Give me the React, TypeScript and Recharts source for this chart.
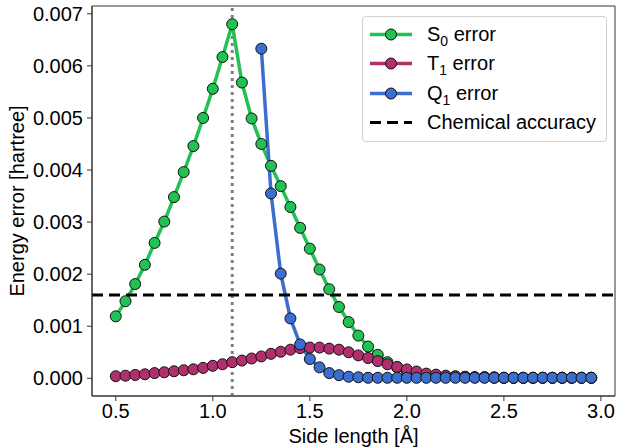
import React from 'react';
import {
  LineChart,
  Line,
  XAxis,
  YAxis,
  ReferenceLine,
  ReferenceArea,
} from 'recharts';

const sideLengths = [
  0.5, 0.55, 0.6, 0.65, 0.7, 0.75, 0.8, 0.85, 0.9, 0.95,
  1.0, 1.05, 1.1, 1.15, 1.2, 1.25, 1.3, 1.35, 1.4, 1.45,
  1.5, 1.55, 1.6, 1.65, 1.7, 1.75, 1.8, 1.85, 1.9, 1.95,
  2.0, 2.05, 2.1, 2.15, 2.2, 2.25, 2.3, 2.35, 2.4, 2.45,
  2.5, 2.55, 2.6, 2.65, 2.7, 2.75, 2.8, 2.85, 2.9, 2.95,
];

const s0Error = [
  0.00119, 0.00148, 0.00181, 0.00218, 0.0026, 0.00301, 0.00348, 0.00396, 0.00446, 0.005,
  0.00556, 0.00617, 0.0068, 0.00568, 0.00499, 0.0045, 0.00408, 0.00369, 0.00329, 0.00289,
  0.00249, 0.00209, 0.00171, 0.00137, 0.00108, 0.00082, 0.00061, 0.00045, 0.00031, 0.00021,
  0.00014, 0.0001, 0.00007, 0.00005, 0.00004, 0.00003, 0.00002, 0.00002, 0.00002, 0.00001,
  0.00001, 0.00001, 0.00001, 0.00001, 0.00001, 0.00001, 0.00001, 0.00001, 0.00001, 0.00001,
];

const t1Error = [
  0.00004, 0.00005, 0.000064, 0.000077, 0.0001, 0.000116, 0.000135, 0.000154, 0.000173, 0.0002,
  0.00024, 0.00027, 0.00031, 0.00034, 0.00038, 0.00042, 0.00047, 0.00051, 0.00055, 0.00058,
  0.00059, 0.00059, 0.00057, 0.00055, 0.0005, 0.00044, 0.00039, 0.00033, 0.00027, 0.00022,
  0.00017, 0.00013, 0.00009, 0.00007, 0.00005, 0.00004, 0.00003, 0.00002, 0.00002, 0.00002,
  0.00001, 0.00001, 0.00001, 0.00001, 0.00001, 0.00001, 0.00001, 0.00001, 0.00001, 0.00001,
];

// Q1 only computed from 1.25 A onwards
const q1Error = [
  null, null, null, null, null, null, null, null, null, null,
  null, null, null, null, null, 0.00633, 0.00355, 0.00201, 0.00115, 0.00065,
  0.00037, 0.00021, 0.0001, 0.00006, 0.00003, 0.00002, 0.00001, 0.00001, 0.00001, 0.00001,
  0.00001, 0.00001, 0.00001, 0.00001, 0.00001, 0.00001, 0.00001, 0.00001, 0.00001, 0.00001,
  0.00001, 0.00001, 0.00001, 0.00001, 0.00001, 0.00001, 0.00001, 0.00001, 0.00001, 0.00001,
];

const xTicks = [0.5, 1.0, 1.5, 2.0, 2.5, 3.0];
const yTicks = [0, 0.001, 0.002, 0.003, 0.004, 0.005, 0.006, 0.007];
const chemicalAccuracy = 0.0016;
const equilibrium = 1.1;

const xDomain: [number, number] = [0.3775, 3.0725];
const yDomain: [number, number] = [-0.00034, 0.00715];

const colors = { s0: '#21c153', t1: '#b22f6e', q1: '#3a6fcf' };

const data = sideLengths.map((x, i) => ({
  x,
  s0: s0Error[i],
  t1: t1Error[i],
  q1: q1Error[i],
}));

const font = '"Liberation Sans", Arial, sans-serif';

const legendItems = [
  { main: 'S', sub: '0', color: colors.s0 },
  { main: 'T', sub: '1', color: colors.t1 },
  { main: 'Q', sub: '1', color: colors.q1 },
];

const Dot = (color: string) => ({ r: 5.5, fill: color, stroke: '#111', strokeWidth: 1 });

export default function App() {
  return (
    <div style={{ position: 'absolute', left: 0, top: 0, width: 621, height: 448, fontFamily: font }}>
      <LineChart
        width={621}
        height={448}
        data={data}
        margin={{ top: 6, right: 6, bottom: 0, left: 0 }}
        style={{ fontFamily: font }}
      >
        <XAxis
          dataKey="x"
          type="number"
          domain={xDomain}
          ticks={xTicks}
          tickFormatter={(v) => v.toFixed(1)}
          allowDataOverflow
          height={52}
          tickSize={5}
          tickMargin={3}
          stroke="#333"
          tick={{ fill: '#000', fontSize: 20 }}
          label={{ value: 'Side length [Å]', position: 'insideBottom', offset: 5, fill: '#000', fontSize: 20 }}
        />
        <YAxis
          type="number"
          domain={yDomain}
          ticks={yTicks}
          tickFormatter={(v) => v.toFixed(3)}
          allowDataOverflow
          width={92}
          tickSize={5}
          tickMargin={4}
          stroke="#333"
          tick={{ fill: '#000', fontSize: 20 }}
          label={{
            value: 'Energy error [hartree]',
            angle: -90,
            position: 'insideLeft',
            offset: 17,
            fill: '#000',
            fontSize: 20,
            style: { textAnchor: 'middle' },
          }}
        />
        <ReferenceArea
          x1={xDomain[0]}
          x2={xDomain[1]}
          y1={yDomain[0]}
          y2={yDomain[1]}
          fill="none"
          stroke="#333"
          strokeWidth={1}
        />
        <ReferenceLine x={equilibrium} stroke="#808080" strokeWidth={3} strokeDasharray="3 4" />
        <Line
          dataKey="s0"
          stroke={colors.s0}
          strokeWidth={3.5}
          dot={Dot(colors.s0)}
          activeDot={false}
          isAnimationActive={false}
        />
        <Line
          dataKey="t1"
          stroke={colors.t1}
          strokeWidth={3.5}
          dot={Dot(colors.t1)}
          activeDot={false}
          isAnimationActive={false}
        />
        <Line
          dataKey="q1"
          stroke={colors.q1}
          strokeWidth={3.5}
          dot={Dot(colors.q1)}
          activeDot={false}
          connectNulls={false}
          isAnimationActive={false}
        />
        <ReferenceLine y={chemicalAccuracy} stroke="#000" strokeWidth={3} strokeDasharray="11 6" />
      </LineChart>
      <div
        style={{
          position: 'absolute',
          left: 362,
          top: 16,
          width: 245,
          height: 126,
          boxSizing: 'border-box',
          border: '1px solid #d0d0d0',
          borderRadius: 4,
          background: 'rgba(255,255,255,0.85)',
          fontSize: 20,
          color: '#000',
        }}
      >
        {legendItems.map((item, i) => (
          <div key={i} style={{ position: 'absolute', left: 0, top: 3 + i * 29.4, height: 29, display: 'flex', alignItems: 'center' }}>
            <svg width={60} height={29}>
              <line x1={7} x2={49} y1={14.5} y2={14.5} stroke={item.color} strokeWidth={3.5} />
              <circle cx={28} cy={14.5} r={5.5} fill={item.color} stroke="#111" strokeWidth={1} />
            </svg>
            <span style={{ marginLeft: 4, lineHeight: '29px' }}>
              {item.main}
              <sub style={{ fontSize: 14, verticalAlign: 'sub', lineHeight: 0 }}>{item.sub}</sub> error
            </span>
          </div>
        ))}
        <div style={{ position: 'absolute', left: 0, top: 3 + 3 * 29.4, height: 29, display: 'flex', alignItems: 'center' }}>
          <svg width={60} height={29}>
            <line x1={7} x2={49} y1={14.5} y2={14.5} stroke="#000" strokeWidth={3} strokeDasharray="11 6" />
          </svg>
          <span style={{ marginLeft: 4, lineHeight: '29px' }}>Chemical accuracy</span>
        </div>
      </div>
    </div>
  );
}
